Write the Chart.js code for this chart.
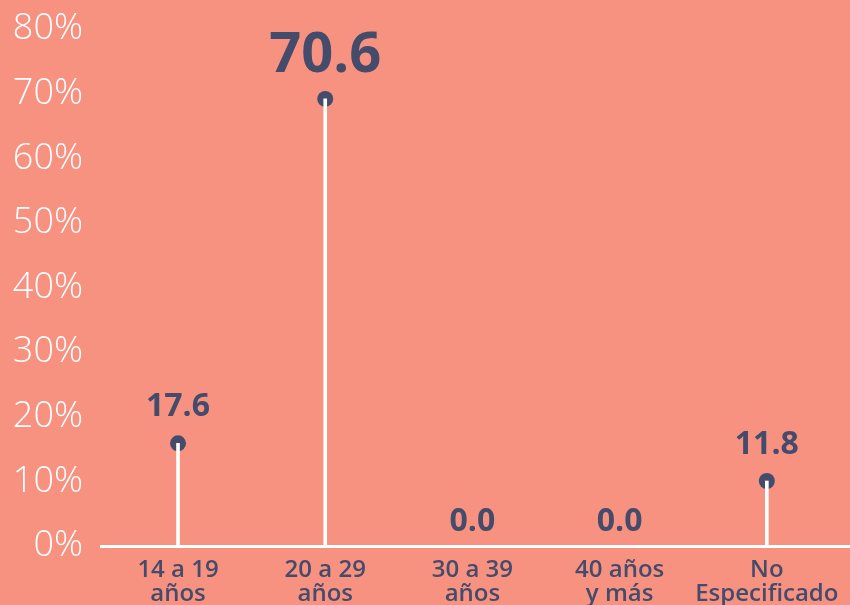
<!DOCTYPE html>
<html>
<head>
<meta charset="utf-8">
<script src="https://cdn.jsdelivr.net/npm/chart.js@4.4.0/dist/chart.umd.min.js"></script>
<style>
  html, body { margin: 0; padding: 0; background: #F79280; }
  #wrap { width: 850px; height: 605px; background: #F79280; }
</style>
</head>
<body>
<div id="wrap"><canvas id="c" width="850" height="605"></canvas></div>
<script>
// ---- data ----
const categories = [["14 a 19", "años"], ["20 a 29", "años"], ["30 a 39", "años"], ["40 años", "y más"], ["No", "Especificado"]];
const values = [17.6, 70.6, 0.0, 0.0, 11.8];
const yTickValues = [0, 10, 20, 30, 40, 50, 60, 70, 80];

const NAVY = '#454B6B';
const points = values.map((v, i) => ({ x: i, y: v }));
const maxIndex = values.indexOf(Math.max(...values));

const valueLabels = {
  id: 'valueLabels',
  afterDatasetsDraw(chart) {
    const meta = chart.getDatasetMeta(1);
    const ctx = chart.ctx;
    ctx.save();
    ctx.fillStyle = NAVY;
    ctx.textAlign = 'center';
    ctx.textBaseline = 'alphabetic';
    meta.data.forEach((pt, i) => {
      const big = i === maxIndex;
      ctx.font = (big ? '700 56px' : '700 32px') + ' "Open Sans", sans-serif';
      ctx.fillText(values[i].toFixed(1), pt.x, pt.y - 27);
    });
    ctx.restore();
  }
};

new Chart(document.getElementById('c'), {
  type: 'bar',
  data: {
    datasets: [
      {
        type: 'bar',
        data: points,
        yAxisID: 'y',
        xAxisID: 'x',
        barThickness: 3,
        backgroundColor: values.map(v => v === 0 ? 'rgba(0,0,0,0)' : '#FFFFFF'),
        borderWidth: 0
      },
      {
        type: 'line',
        data: points,
        yAxisID: 'y',
        xAxisID: 'x',
        showLine: false,
        clip: false,
        pointRadius: values.map(v => v === 0 ? 0 : 8),
        pointHoverRadius: values.map(v => v === 0 ? 0 : 8),
        pointBackgroundColor: NAVY,
        pointBorderWidth: 0
      }
    ]
  },
  options: {
    responsive: false,
    animation: false,
    devicePixelRatio: 1,
    layout: { autoPadding: false, padding: { top: 10, left: 0, right: 0, bottom: 0 } },
    plugins: { legend: { display: false }, tooltip: { enabled: false } },
    scales: {
      x: {
        type: 'linear',
        position: 'bottom',
        offset: false,
        min: -0.53,
        max: 4.565,
        grid: { display: false, drawTicks: false, offset: false },
        border: { display: false },
        afterBuildTicks(scale) { scale.ticks = categories.map((c, i) => ({ value: i })); },
        afterFit(scale) { scale.height = 59; scale.paddingLeft = 0; scale.paddingRight = 0; },
        ticks: {
          autoSkip: false,
          maxRotation: 0,
          minRotation: 0,
          padding: 12,
          color: NAVY,
          font: { family: '"Open Sans", sans-serif', size: 24, weight: 600, lineHeight: 1.0 },
          callback: (v) => categories[v]
        }
      },
      y: {
        type: 'linear',
        display: false,
        min: 1.795,
        max: 84.29
      },
      y2: {
        type: 'linear',
        position: 'left',
        min: 0,
        max: 82.97,
        afterBuildTicks(scale) { scale.ticks = yTickValues.map(v => ({ value: v })); },
        afterFit(scale) { scale.width = 100; scale.paddingTop = 0; scale.paddingBottom = 0; },
        border: { display: false },
        grid: {
          drawTicks: false,
          lineWidth: 3,
          color: (ctx) => (ctx.tick && ctx.tick.value === 0) ? '#FFFFFF' : 'rgba(0,0,0,0)'
        },
        ticks: {
          padding: 17,
          color: '#FFFFFF',
          font: { family: '"Open Sans", sans-serif', size: 36, weight: 300 },
          callback: (v) => v + '%'
        }
      }
    }
  },
  plugins: [valueLabels]
});
</script>
</body>
</html>
